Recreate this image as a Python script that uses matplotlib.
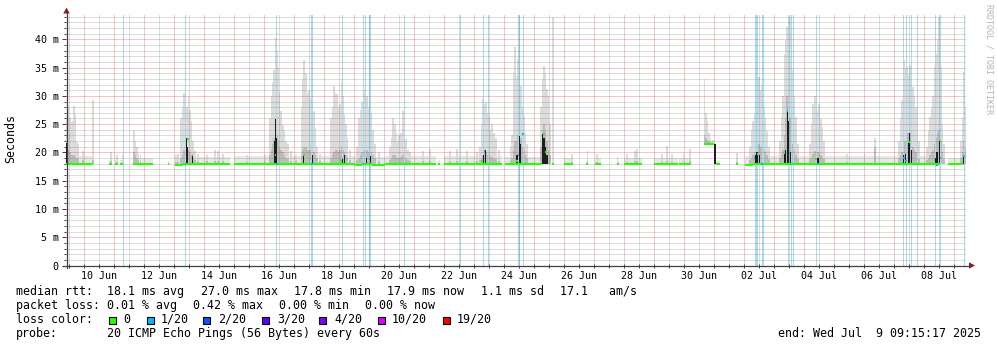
import datetime as dt
import numpy as np
import matplotlib
matplotlib.use("Agg")
import matplotlib.pyplot as plt
from matplotlib.patches import Polygon, Rectangle
from matplotlib.lines import Line2D

plt.rcParams["font.family"] = ["DejaVu Sans Mono"]

# ---------------- time base ----------------
T0 = dt.datetime(2025, 6, 9)                  # x = days since this moment
END = dt.datetime(2025, 7, 9, 9, 15, 17)
SPAN_DAYS = 30

# ---------------- median rtt (ms), piecewise per data segment ----------------
seg_start = [0.39, 1.83, 2.02, 2.19, 2.61, 3.77, 4.02, 4.30, 5.99, 10.02,
             10.26, 10.59, 11.02, 12.78, 13.00, 15.02, 16.60, 17.00, 17.73, 18.01,
             18.75, 19.00, 20.00, 20.82, 21.66, 22.06, 22.72, 23.02, 23.30, 29.77]
seg_end = [1.30, 1.91, 2.13, 2.30, 3.28, 3.82, 4.30, 5.86, 10.02, 10.26,
           10.59, 11.02, 12.71, 12.86, 14.91, 16.25, 16.66, 17.28, 17.78, 18.22,
           18.81, 19.60, 20.80, 21.21, 22.00, 22.19, 22.80, 23.30, 29.53, 30.30]
seg_median = [18.0, 18.0, 18.0, 18.0, 18.0, 18.0, 17.8, 18.0, 18.0, 17.8,
              18.0, 17.8, 18.0, 18.0, 18.0, 18.0, 18.0, 18.0, 18.0, 18.0,
              18.0, 18.0, 18.0, 18.0, 21.45, 18.0, 18.0, 17.75, 18.0, 18.0]
seg_haze = [19.4, 18.6, 18.6, 18.6, 19.0, 18.5, 19.0, 19.2, 19.3, 19.3,
            19.3, 19.2, 19.3, 18.6, 19.3, 19.2, 18.5, 19.0, 18.5, 19.0,
            18.5, 19.0, 19.0, 19.0, 22.0, 18.5, 18.5, 19.3, 19.3, 19.0]

# ---------------- smoke: max ping (top) and upper quartile (mid), ms ----------------
smoke_day = [0.41, 0.46, 0.51, 0.56, 0.61, 0.64, 0.69, 0.74, 0.79, 0.96, 1.28,
             1.89, 2.09, 2.29,
             2.64, 2.69, 2.74, 2.80, 2.87,
             4.06, 4.12, 4.22, 4.27, 4.32, 4.37, 4.42, 4.47, 4.52, 4.57, 4.62, 4.69, 4.79,
             5.09, 5.36, 5.46, 5.62, 6.43, 7.03,
             7.19, 7.24, 7.29, 7.33, 7.37, 7.42, 7.46, 7.50, 7.55, 7.61, 7.66, 7.72, 7.79, 7.89, 8.06,
             8.24, 8.29, 8.33, 8.38, 8.43, 8.48, 8.53, 8.59, 8.64, 8.69, 8.76, 8.86,
             9.22, 9.27, 9.32, 9.37, 9.42, 9.47, 9.52, 9.57, 9.62, 9.67, 9.72, 9.77, 9.86,
             10.09, 10.16, 10.21, 10.26, 10.31, 10.37, 10.42, 10.47, 10.52, 10.57, 10.62, 10.69, 10.82,
             11.19, 11.24, 11.29, 11.34, 11.39, 11.44, 11.49, 11.54, 11.61, 11.66, 11.71, 11.79,
             11.86, 12.29, 12.52, 13.19, 13.42, 13.76, 14.09,
             14.19, 14.24, 14.29, 14.34, 14.39, 14.44, 14.49, 14.54, 14.59, 14.66, 14.72, 14.82,
             15.21, 15.26, 15.31, 15.34, 15.39, 15.44, 15.49, 15.54, 15.59, 15.64, 15.69, 15.76,
             16.22, 16.27, 16.32, 16.37, 16.42, 16.47, 16.52, 16.63,
             17.24, 17.77, 18.09, 18.77, 19.08, 19.36, 19.43, 20.25, 20.41, 20.58, 20.97, 21.19,
             21.67, 21.71, 21.76, 21.81, 21.87, 21.96, 22.76,
             23.19, 23.24, 23.29, 23.34, 23.39, 23.44, 23.49, 23.54, 23.59, 23.64, 23.69, 23.74, 23.82,
             24.19, 24.24, 24.29, 24.34, 24.39, 24.43, 24.47, 24.52, 24.56, 24.61, 24.66, 24.71, 24.79,
             25.19, 25.24, 25.29, 25.34, 25.39, 25.44, 25.49, 25.54, 25.59, 25.66,
             26.41, 27.00, 27.36,
             28.16, 28.21, 28.26, 28.31, 28.36, 28.41, 28.46, 28.51, 28.56, 28.61, 28.66, 28.71, 28.76, 28.82,
             29.09, 29.14, 29.19, 29.24, 29.29, 29.34, 29.39, 29.44, 29.49, 29.54, 29.59, 29.66,
             30.22, 30.27, 30.32, 30.37]
smoke_top = [26.5, 28.0, 26.0, 25.3, 25.6, 28.2, 26.8, 21.8, 21.5, 20.2, 29.2,
             20.0, 19.5, 19.6,
             24.0, 22.0, 21.0, 19.8, 19.6,
             19.6, 19.8, 26.0, 28.0, 30.5, 31.5, 28.0, 30.0, 27.5, 25.6, 22.0, 20.2, 19.8,
             19.6, 20.5, 20.3, 19.7, 19.6, 19.6,
             26.0, 30.0, 32.5, 34.5, 40.3, 38.0, 35.0, 30.6, 27.4, 24.8, 24.0, 22.0, 21.5, 20.3, 19.6,
             28.0, 33.0, 36.3, 34.0, 30.3, 30.9, 29.7, 28.5, 27.4, 24.4, 21.0, 19.8,
             26.0, 28.0, 31.8, 30.5, 30.3, 28.0, 28.5, 32.5, 30.0, 26.8, 25.0, 22.6, 20.5,
             21.0, 26.0, 27.5, 29.0, 31.0, 32.6, 30.0, 28.0, 28.8, 27.0, 24.0, 21.5, 20.0,
             21.0, 22.5, 26.1, 25.0, 23.5, 22.0, 23.0, 23.5, 27.3, 24.0, 22.3, 20.5,
             20.0, 20.3, 20.6, 20.3, 20.6, 20.3, 20.0,
             21.0, 25.0, 29.5, 28.5, 29.0, 27.0, 26.5, 24.0, 25.0, 23.5, 22.5, 20.5,
             21.0, 23.0, 34.0, 38.6, 33.6, 36.5, 35.0, 31.8, 28.0, 26.4, 23.5, 21.5,
             28.0, 33.0, 35.3, 34.0, 31.2, 30.0, 25.0, 44.0,
             19.7, 20.3, 19.7, 19.2, 19.7, 20.3, 20.6, 19.7, 21.2, 19.7, 19.7, 20.6,
             33.0, 27.0, 25.6, 23.5, 22.6, 22.2, 19.9,
             21.0, 24.0, 25.6, 26.8, 28.0, 29.7, 33.3, 31.0, 31.8, 28.0, 26.0, 23.8, 21.0,
             22.0, 26.2, 30.0, 37.4, 39.8, 42.2, 44.4, 44.0, 39.8, 34.5, 30.0, 26.2, 21.5,
             21.5, 25.0, 28.6, 30.0, 26.8, 27.4, 28.5, 25.9, 24.5, 22.0,
             19.8, 19.8, 22.5,
             22.0, 26.0, 29.2, 36.3, 35.0, 35.1, 33.9, 35.4, 32.0, 31.6, 29.9, 28.0, 25.8, 22.0,
             21.0, 24.0, 26.2, 28.0, 30.0, 35.1, 37.4, 40.0, 43.9, 35.1, 25.0, 21.5,
             22.0, 26.0, 34.2, 28.0]
smoke_mid = [21.0, 20.5, 20.0, 19.5, 19.5, 19.5, 19.2, 19.0, 18.8, 18.6, 18.6,
             18.4, 18.3, 18.3,
             20.0, 19.5, 19.0, 18.6, 18.4,
             18.3, 18.3, 19.0, 19.5, 20.5, 21.5, 21.0, 20.5, 20.0, 19.5, 19.0, 18.6, 18.5,
             18.4, 18.5, 18.5, 18.4, 18.3, 18.3,
             19.5, 20.5, 21.5, 22.5, 24.0, 23.0, 22.0, 21.0, 20.5, 20.0, 19.5, 19.0, 18.8, 18.5, 18.4,
             19.5, 20.5, 21.0, 21.0, 20.5, 20.5, 20.5, 20.5, 20.0, 19.5, 19.0, 18.5,
             19.0, 19.5, 20.0, 20.5, 20.5, 20.0, 20.5, 21.0, 20.5, 20.0, 19.5, 19.0, 18.6,
             18.6, 19.0, 19.5, 20.0, 20.5, 21.0, 20.5, 20.0, 20.5, 20.0, 19.5, 19.0, 18.5,
             18.6, 19.0, 19.5, 19.5, 19.2, 19.0, 19.0, 19.2, 19.5, 19.2, 19.0, 18.6,
             18.4, 18.4, 18.5, 18.4, 18.5, 18.4, 18.4,
             18.6, 19.0, 19.5, 20.0, 20.0, 19.5, 19.5, 19.2, 19.2, 19.0, 18.8, 18.5,
             18.6, 19.0, 20.5, 22.0, 22.0, 23.0, 23.5, 22.5, 21.0, 20.5, 19.5, 19.0,
             21.0, 24.0, 25.0, 24.0, 22.0, 20.5, 19.5, 18.0,
             18.3, 18.4, 18.3, 18.2, 18.3, 18.4, 18.5, 18.3, 18.5, 18.3, 18.3, 18.4,
             23.0, 22.5, 22.2, 22.0, 21.8, 21.7, 18.3,
             18.6, 19.0, 19.5, 20.0, 20.5, 21.0, 21.5, 21.0, 21.0, 20.5, 20.0, 19.5, 18.8,
             19.0, 19.5, 20.5, 23.0, 26.0, 30.0, 29.0, 26.0, 23.0, 21.5, 20.5, 19.5, 18.8,
             18.8, 19.2, 19.8, 20.2, 20.0, 20.0, 19.8, 19.5, 19.2, 18.8,
             18.3, 18.3, 21.0,
             19.0, 19.5, 20.0, 21.5, 22.0, 22.5, 23.5, 23.5, 22.0, 21.0, 20.5, 20.0, 19.5, 18.8,
             18.6, 19.0, 19.5, 20.0, 20.5, 21.5, 22.5, 23.5, 24.0, 22.0, 20.0, 18.8,
             19.0, 20.0, 22.0, 21.0]

# densest part of the smoke (ms)
core_day = [0.41, 4.41, 4.44, 4.60, 7.35, 7.37, 7.40, 8.31, 8.61, 9.59, 9.66, 10.39, 10.54,
            14.29, 14.36, 15.42, 15.51, 15.54, 16.27, 16.32, 16.37, 16.42, 22.02,
            23.36, 23.42, 23.49, 24.33, 24.38, 24.43, 24.48, 24.53, 25.45,
            28.29, 28.36, 28.46, 28.51, 28.56, 29.36, 29.42, 29.51, 30.31]
core_top = [21.6, 22.6, 21.0, 19.4, 22.0, 25.9, 22.5, 19.6, 19.6, 18.8, 19.5, 19.0, 19.4,
            19.5, 20.5, 19.5, 22.9, 21.5, 23.2, 22.5, 21.0, 19.5, 21.4,
            19.5, 20.0, 19.6, 19.8, 20.5, 27.3, 25.5, 20.0, 19.0,
            19.5, 19.8, 22.0, 23.4, 20.5, 19.0, 20.0, 22.0, 19.6]

# short median readings that stand off the main line: day, ms, lost pings (of 20)
spot_day = [0.44, 4.37, 4.45, 4.60, 7.37, 7.42, 8.31, 8.58, 9.56, 10.30, 10.50,
            14.26, 14.34, 15.43, 15.47, 15.61, 16.32, 16.39,
            23.34, 23.44, 23.59, 24.34, 24.44, 24.54, 25.39, 25.45,
            28.31, 28.39, 28.49, 29.34, 29.41, 29.54, 29.54, 30.33]
spot_ms = [21.3, 17.9, 22.3, 19.6, 19.6, 18.0, 19.6, 18.0, 18.5, 17.9, 18.8,
           18.5, 20.2, 18.5, 19.5, 23.2, 23.2, 20.0,
           19.0, 19.8, 18.0, 20.0, 27.3, 18.0, 18.8, 18.0,
           19.0, 18.5, 21.8, 18.6, 17.8, 22.0, 19.0, 19.3]
spot_loss = [0, 1, 0, 0, 0, 1, 0, 1, 0, 1, 1,
             0, 1, 0, 1, 1, 0, 0,
             1, 0, 1, 0, 1, 1, 0, 1,
             1, 1, 0, 0, 1, 0, 1, 1]

# periods with packet loss: centre day and duration in hours
loss_day = [2.31, 4.37, 7.41, 8.58, 9.60, 10.30, 10.36, 10.50, 10.55, 11.67, 13.53,
            14.31, 14.48, 15.50, 15.63, 23.41, 23.61, 24.47, 24.56, 24.63, 25.41,
            28.31, 28.41, 28.57, 28.77, 29.37, 29.52, 30.33]
loss_hours = [0.8, 0.8, 0.8, 1.6, 0.8, 0.8, 0.8, 0.8, 0.8, 0.8, 0.8,
              0.8, 0.8, 1.6, 0.8, 2.4, 1.6, 0.8, 0.8, 0.8, 0.8,
              0.8, 0.8, 0.8, 0.8, 0.8, 0.8, 0.8]

loss_labels = ["0", "1/20", "2/20", "3/20", "4/20", "10/20", "19/20"]
loss_colors = ["#26ff00", "#00b8ff", "#0059ff", "#5e00ff", "#7e00ff", "#dd00ff", "#ff0000"]

# ---------------- styling ----------------
W, H = 997, 347
PX0, PX1, PY0, PY1 = 66, 966, 265.5, 15.3     # plot frame, pixels
Y_TOP = 44.25
SMOKE_LIGHT = "#dcdcdc"
SMOKE_MID = "#bcbcbc"
SMOKE_CORE = "#1e1e1e"
HAZE = "#e8e8e8"
GRID_MINOR = (0.45, 0.45, 0.45, 0.24)
GRID_MAJOR = (0.86, 0.16, 0.16, 0.26)
LOSS_BAR = "#a8dcf0"
AXIS = "#404040"
ARROW = "#8c1c1c"
FS_AXIS = 7.2
FS_TEXT = 8.4

fig = plt.figure(figsize=(W / 100, H / 100), dpi=100)
fig.patch.set_facecolor("white")
ax = fig.add_axes([PX0 / W, 1 - PY0 / H, (PX1 - PX0) / W, (PY0 - PY1) / H])
for sp in ax.spines.values():
    sp.set_visible(False)

x_hi = (END - T0).total_seconds() / 86400
x_lo = x_hi - SPAN_DAYS
ax.set_xlim(x_lo, x_hi)
ax.set_ylim(0, Y_TOP)


def base_at(day):
    for s, e, m in zip(seg_start, seg_end, seg_median):
        if s <= day <= e:
            return m
    return 18.0


# haze just above the median
for s, e, m, hz in zip(seg_start, seg_end, seg_median, seg_haze):
    ax.fill_between([s, e], m, hz, color=HAZE, lw=0, zorder=1)

# smoke
bases = np.array([base_at(d) for d in smoke_day])
sd = np.array(smoke_day)
ax.bar(sd, np.array(smoke_top) - bases, bottom=bases, width=0.058,
       color=SMOKE_LIGHT, lw=0, zorder=1.5)
mids = np.maximum(np.array(smoke_mid), bases)
ax.bar(sd, mids - bases, bottom=bases, width=0.058, color=SMOKE_MID, lw=0, zorder=1.6)

# loss periods
for d, h in zip(loss_day, loss_hours):
    ax.axvspan(d - h / 48, d + h / 48, color=LOSS_BAR, lw=0, zorder=2)

# translucent grid, one pixel wide, over the smoke
noons = np.arange(np.ceil(x_lo - 0.5) + 0.5, x_hi, 1.0)
midnights = np.arange(np.ceil(x_lo), x_hi, 1.0)
ys = np.arange(1, int(Y_TOP) + 1)
grid_kw = dict(lw=0.72, antialiased=False, snap=True)
ax.vlines(noons, 0, Y_TOP, colors=[GRID_MINOR], zorder=3, **grid_kw)
ax.hlines(ys[ys % 5 != 0], x_lo, x_hi, colors=[GRID_MINOR], zorder=3, **grid_kw)
ax.vlines(midnights, 0, Y_TOP, colors=[GRID_MAJOR], zorder=3.1, **grid_kw)
ax.hlines(ys[ys % 5 == 0], x_lo, x_hi, colors=[GRID_MAJOR], zorder=3.1, **grid_kw)

# dense smoke core
cbase = np.array([min(base_at(d), 18.0) for d in core_day])
ax.bar(core_day, np.array(core_top) - cbase, bottom=cbase, width=0.04,
       color=SMOKE_CORE, lw=0, zorder=4)

# median line
ax.hlines(seg_median, seg_start, seg_end, colors=loss_colors[0], lw=1.5, zorder=6)
ax.hlines(spot_ms, np.array(spot_day) - 0.028, np.array(spot_day) + 0.028,
          colors=[loss_colors[k] for k in spot_loss], lw=1.5, zorder=7)

# ticks and labels
ax.set_yticks(np.arange(0, 41, 5))
ax.set_yticklabels(["0"] + [f"{v} m" for v in range(5, 41, 5)])
ax.set_yticks(ys, minor=True)
ax.tick_params(axis="y", which="major", direction="out", length=3.0, width=0.72,
               color=AXIS, pad=2.2, labelsize=FS_AXIS)
ax.tick_params(axis="y", which="minor", direction="out", length=1.5, width=0.72, color=AXIS)

label_days = np.arange(1, 30, 2) + 0.5
ax.set_xticks(label_days)
ax.set_xticklabels([(T0 + dt.timedelta(days=int(d))).strftime("%d %b") for d in label_days])
ax.xaxis.remove_overlapping_locs = False
ax.set_xticks(np.concatenate([noons, midnights]), minor=True)
ax.tick_params(axis="x", which="major", length=0, pad=4.0, labelsize=FS_AXIS)
ax.tick_params(axis="x", which="minor", direction="inout", length=3, width=0.72, color=AXIS)


def fx(px):
    return px / W


def fy(py):
    return 1 - py / H


# axes with arrows
fig.add_artist(Line2D([fx(66.5), fx(66.5)], [fy(268), fy(12)], color=AXIS, lw=0.9))
fig.add_artist(Line2D([fx(63), fx(970)], [fy(265.5), fy(265.5)], color=AXIS, lw=0.9))
fig.add_artist(Polygon([[fx(63.3), fy(13.5)], [fx(69.7), fy(13.5)], [fx(66.5), fy(7.5)]],
                       closed=True, color=ARROW, lw=0))
fig.add_artist(Polygon([[fx(969), fy(262.3)], [fx(969), fy(268.7)], [fx(975), fy(265.5)]],
                       closed=True, color=ARROW, lw=0))

# side texts
fig.text(fx(11), fy(139), "Seconds", rotation=90, ha="center", va="center", size=FS_TEXT)
fig.text(fx(988.5), fy(59), "RRDTOOL / TOBI OETIKER", rotation=270, ha="center",
         va="center", size=6.0, color="#b4b4b4")

# legend block
rows = [
    (291.5, [(16, "median rtt:"), (107.3, "18.1 ms avg"), (200.6, "27.0 ms max"),
             (293.9, "17.8 ms min"), (387.2, "17.9 ms now"), (480.5, "1.1 ms sd"),
             (559.5, "17.1   am/s")]),
    (305.5, [(16, "packet loss:"), (107.3, "0.01 % avg"), (193.3, "0.42 % max"),
             (279.3, "0.00 % min"), (365.3, "0.00 % now")]),
    (319.5, [(16, "loss color:")]),
    (333.5, [(16, "probe:"), (107, "20 ICMP Echo Pings (56 Bytes) every 60s")]),
]
for y, items in rows:
    for x, s in items:
        fig.text(fx(x), fy(y), s, ha="left", va="center", size=FS_TEXT)

box_x = [108.5, 147, 203, 262, 319, 378, 443]
lab_x = [123, 160.7, 218, 277, 334, 392, 457]
for bx, lx, lab, col in zip(box_x, lab_x, loss_labels, loss_colors):
    fig.add_artist(Rectangle((fx(bx), fy(323.5)), 7 / W, 7 / H, transform=fig.transFigure,
                             facecolor=col, edgecolor="black", lw=0.8))
    fig.text(fx(lx), fy(319.5), lab, ha="left", va="center", size=FS_TEXT)

fig.text(fx(981), fy(333.5), "end: Wed Jul  9 09:15:17 2025", ha="right", va="center",
         size=FS_TEXT)

fig.savefig("out.png", dpi=100, facecolor="white")
